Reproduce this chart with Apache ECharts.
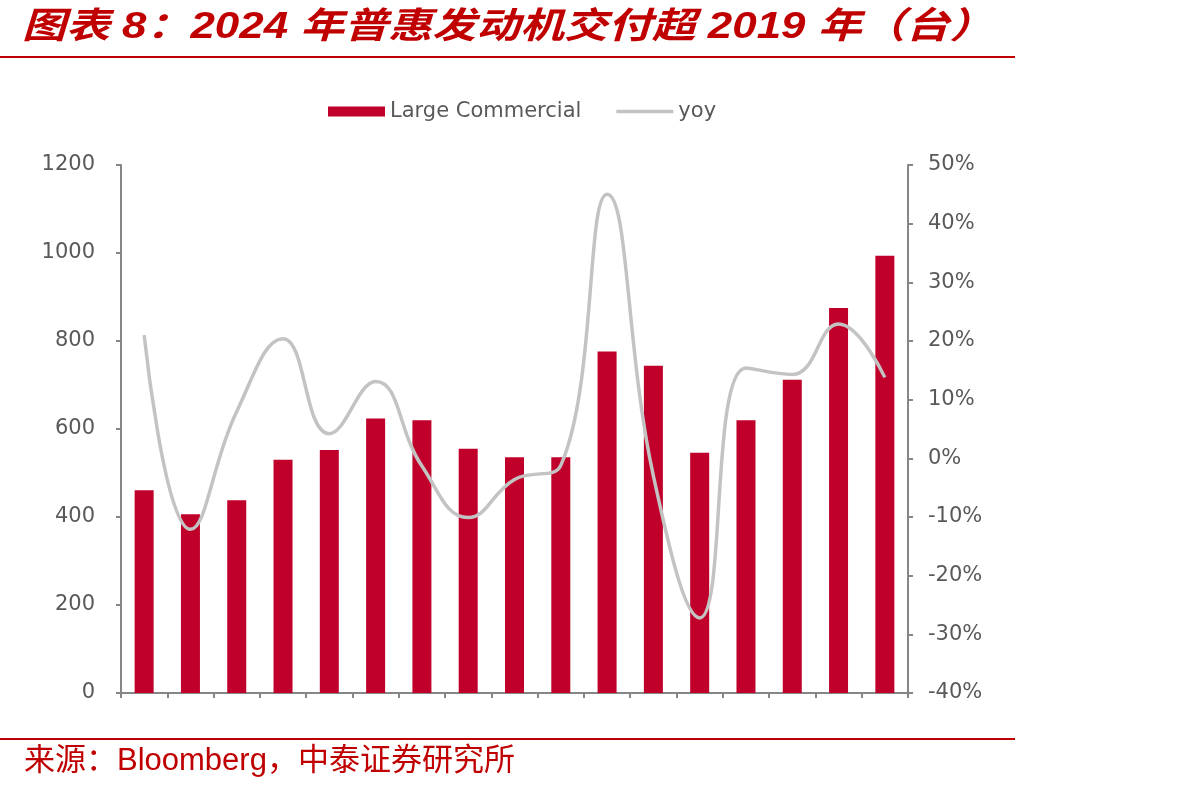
<!DOCTYPE html>
<html>
<head>
<meta charset="utf-8">
<script src="https://cdn.jsdelivr.net/npm/echarts@6/dist/echarts.min.js"></script>
<style>html,body{margin:0;padding:0;background:#fff;}#c{width:1192px;height:792px;}</style>
</head>
<body>
<div id="c"></div>
<script>
var categories = ['1','2','3','4','5','6','7','8','9','10','11','12','13','14','15','16','17'];
var largeCommercial = [461, 406, 438, 530, 552, 624, 620, 555, 536, 536, 776, 744, 546, 620, 712, 875, 994];
var yoy = [21.0, -12.1, 8.0, 20.4, 4.2, 13.1, -1.3, -10.1, -3.6, -1.2, 45.0, -3.0, -27.2, 15.4, 14.3, 22.9, 13.8];
var leftTicks = [0, 200, 400, 600, 800, 1000, 1200];
var rightTicks = [-40, -30, -20, -10, 0, 10, 20, 30, 40, 50];

var chart = echarts.init(document.getElementById('c'));
var axisGray = '#868686';
var textGray = '#595959';
var font = '"DejaVu Sans", sans-serif';
chart.setOption({
  animation: false,
  backgroundColor: '#ffffff',
  graphic: [
    { type: 'text', x: 22, y: 10, scaleX: 1.22, silent: true,
      style: { text: '图表 8：2024 年普惠发动机交付超 2019 年（台）', fill: '#C00000',
        fontSize: 36, fontWeight: 'bold', fontStyle: 'italic',
        fontFamily: '"Liberation Sans","Noto Sans CJK SC", sans-serif', textVerticalAlign: 'top' } },
    { type: 'rect', shape: { x: 0, y: 56, width: 1015, height: 2 }, style: { fill: '#C00000' }, silent: true },
    { type: 'rect', shape: { x: 0, y: 738, width: 1015, height: 2 }, style: { fill: '#C00000' }, silent: true },
    { type: 'text', x: 24, y: 746, silent: true,
      style: { text: '来源：Bloomberg，中泰证券研究所', fill: '#C00000', fontSize: 31,
        fontFamily: '"Liberation Sans","Noto Sans CJK SC", sans-serif', textVerticalAlign: 'top' } }
  ],
  legend: {
    left: 323, top: 96,
    itemGap: 35,
    itemWidth: 57, itemHeight: 10,
    textStyle: { color: textGray, fontSize: 21, fontFamily: font },
    data: [
      { name: 'Large Commercial', icon: 'rect' },
      { name: 'yoy', icon: 'path://M0,0 L57,0 L57,3.5 L0,3.5 Z', itemStyle: { color: '#C3C3C3' } }
    ]
  },
  grid: { left: 121, right: 284, top: 165, bottom: 99, containLabel: false },
  xAxis: {
    type: 'category',
    data: categories,
    boundaryGap: true,
    axisLine: { lineStyle: { color: axisGray, width: 2 } },
    axisTick: { show: true, length: 5, lineStyle: { color: axisGray, width: 2 } },
    axisLabel: { show: false },
    splitLine: { show: false }
  },
  yAxis: [{
    type: 'value', min: leftTicks[0], max: leftTicks[leftTicks.length - 1], interval: 200,
    position: 'left',
    axisLine: { show: true, lineStyle: { color: axisGray, width: 2 } },
    axisTick: { show: true, length: 5, lineStyle: { color: axisGray, width: 2 } },
    axisLabel: { color: textGray, fontSize: 21, fontFamily: font, margin: 26, formatter: function (v) { return String(v); } },
    splitLine: { show: false }
  }, {
    type: 'value', min: rightTicks[0], max: rightTicks[rightTicks.length - 1], interval: 10,
    position: 'right',
    axisLine: { show: true, lineStyle: { color: axisGray, width: 2 } },
    axisTick: { show: true, length: 5, lineStyle: { color: axisGray, width: 2 } },
    axisLabel: { color: textGray, fontSize: 21, fontFamily: font, margin: 20, formatter: '{value}%' },
    splitLine: { show: false }
  }],
  series: [{
    name: 'Large Commercial',
    type: 'bar',
    data: largeCommercial,
    barWidth: 19,
    itemStyle: { color: '#C0002A' }
  }, {
    name: 'yoy',
    type: 'line',
    yAxisIndex: 1,
    data: yoy,
    smooth: 0.45,
    symbol: 'none',
    showSymbol: false,
    lineStyle: { color: '#C3C3C3', width: 3.5 },
    itemStyle: { color: '#C3C3C3' },
    z: 3
  }]
});
</script>
</body>
</html>
